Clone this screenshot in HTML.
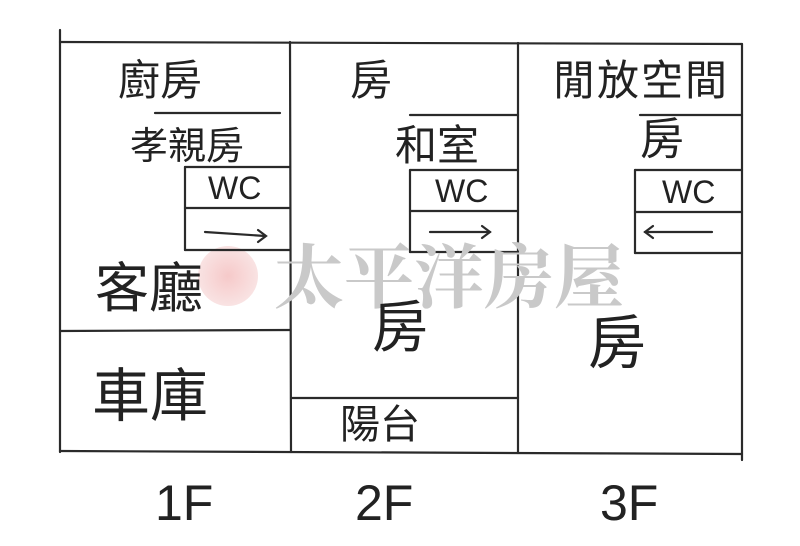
<!DOCTYPE html>
<html><head><meta charset="utf-8"><style>
html,body{margin:0;padding:0;background:#fff}
body{width:800px;height:546px;position:relative;overflow:hidden;font-family:"Liberation Sans","Noto Sans CJK TC",sans-serif}
.t{position:absolute;color:#222;white-space:nowrap;line-height:1}
</style></head><body>
<svg width="800" height="546" style="position:absolute;left:0;top:0">
<defs><radialGradient id="g" cx="50%" cy="50%" r="50%"><stop offset="0" stop-color="#f6c9c9"/><stop offset="1" stop-color="#f9e3e3"/></radialGradient></defs>
<circle cx="228" cy="276" r="30" fill="url(#g)"/>
<g stroke="#2a2a2a" stroke-width="2.2" fill="none" stroke-linecap="round">
<line x1="60" y1="30" x2="60" y2="452"/>
<line x1="60" y1="42" x2="742" y2="44"/>
<line x1="60" y1="451" x2="742" y2="454"/>
<line x1="290" y1="42" x2="291" y2="452"/>
<line x1="518" y1="43" x2="518" y2="453"/>
<line x1="742" y1="44" x2="742" y2="460"/>
<line x1="60" y1="331" x2="290" y2="330"/>
<line x1="291" y1="398" x2="518" y2="398"/>
<line x1="155" y1="113" x2="280" y2="113"/>
<line x1="185" y1="167" x2="290" y2="167"/>
<line x1="185" y1="167" x2="185" y2="250"/>
<line x1="185" y1="208" x2="290" y2="208"/>
<line x1="185" y1="250" x2="290" y2="250"/>
<line x1="205" y1="232" x2="265" y2="236"/><path d="M258 230 L266 236 L258 242"/>
<line x1="410" y1="115" x2="518" y2="115"/>
<line x1="410" y1="170" x2="518" y2="170"/>
<line x1="410" y1="170" x2="410" y2="252"/>
<line x1="410" y1="211" x2="518" y2="211"/>
<line x1="410" y1="252" x2="518" y2="252"/>
<line x1="430" y1="232" x2="490" y2="232"/><path d="M482 226 L490 232 L482 238"/>
<line x1="640" y1="115" x2="742" y2="115"/>
<line x1="635" y1="170" x2="742" y2="170"/>
<line x1="635" y1="170" x2="635" y2="253"/>
<line x1="635" y1="212" x2="742" y2="212"/>
<line x1="635" y1="253" x2="742" y2="253"/>
<line x1="645" y1="232" x2="712" y2="232"/><path d="M653 226 L645 232 L653 238"/>
</g>
</svg>
<div class="t" style="left:274px;top:238px;font-size:70px;color:#c9c9c9;font-family:'Noto Serif CJK SC',serif;font-weight:bold;letter-spacing:0px">太平洋房屋</div>
<div class="t" style="left:118px;top:60px;font-size:42px">廚房</div>
<div class="t" style="left:130px;top:128px;font-size:38px">孝親房</div>
<div class="t" style="left:208px;top:172px;font-size:32px">WC</div>
<div class="t" style="left:95px;top:262px;font-size:54px">客廳</div>
<div class="t" style="left:92px;top:368px;font-size:58px">車庫</div>
<div class="t" style="left:350px;top:60px;font-size:42px">房</div>
<div class="t" style="left:395px;top:125px;font-size:42px">和室</div>
<div class="t" style="left:435px;top:175px;font-size:32px">WC</div>
<div class="t" style="left:372px;top:300px;font-size:56px">房</div>
<div class="t" style="left:340px;top:405px;font-size:40px">陽台</div>
<div class="t" style="left:553px;top:60px;font-size:42px;letter-spacing:2px">閒放空間</div>
<div class="t" style="left:640px;top:118px;font-size:44px">房</div>
<div class="t" style="left:662px;top:176px;font-size:32px">WC</div>
<div class="t" style="left:588px;top:315px;font-size:58px">房</div>
<div class="t" style="left:155px;top:478px;font-size:50px">1F</div>
<div class="t" style="left:355px;top:478px;font-size:50px">2F</div>
<div class="t" style="left:600px;top:478px;font-size:50px">3F</div>
</body></html>
